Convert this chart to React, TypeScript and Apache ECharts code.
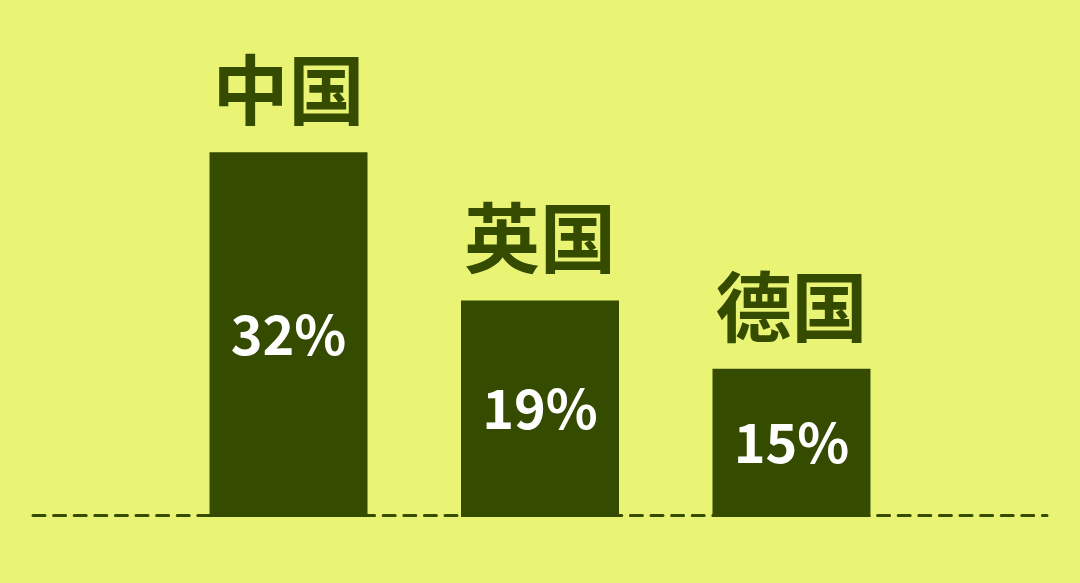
import React, { useEffect, useRef } from 'react';
import * as echarts from 'echarts';

const countries = ['中国', '英国', '德国'];
// bar heights as drawn in the picture, and the printed shares
const barHeights = [32, 19, 13];
const shareLabels = ['32%', '19%', '15%'];

const BG = '#e9f374';
const DARK = '#354b00';

export default function App() {
  const chartRef = useRef<HTMLDivElement>(null);

  useEffect(() => {
    document.body.style.margin = '0';
    if (!chartRef.current) return;
    const chart = echarts.init(chartRef.current, undefined, { renderer: 'svg' });

    const font = '"Noto Sans CJK SC", "Noto Sans", sans-serif';

    chart.setOption({
      animation: false,
      backgroundColor: BG,
      grid: { left: 33, right: 33, top: 61, bottom: 66 },
      xAxis: {
        type: 'value',
        min: -0.016,
        max: 4.016,
        offset: -1.5, // dashed baseline sits just under the bars' bottom edge
        axisLine: {
          show: true,
          onZero: false,
          lineStyle: { color: DARK, width: 3, type: [12, 8.6] }
        },
        axisTick: { show: false },
        axisLabel: { show: false },
        splitLine: { show: false }
      },
      yAxis: {
        type: 'value',
        min: 0,
        max: 40,
        show: false,
        splitLine: { show: false }
      },
      series: [
        {
          type: 'bar',
          barWidth: 158,
          z: 5,
          itemStyle: { color: DARK },
          data: barHeights.map((v, i) => [i + 1, v]),
          label: {
            show: true,
            position: 'inside',
            offset: [0, -3],
            color: '#ffffff',
            fontFamily: font,
            fontWeight: 'bold',
            fontSize: 54,
            formatter: (p: any) => shareLabels[p.dataIndex]
          }
        },
        {
          type: 'scatter',
          symbolSize: 0,
          silent: true,
          z: 6,
          itemStyle: { opacity: 1, color: DARK },
          data: barHeights.map((v, i) => [i + 1, v]),
          label: {
            show: true,
            position: 'top',
            distance: 28,
            color: DARK,
            opacity: 1,
            fontFamily: font,
            fontWeight: 'bold',
            fontSize: 76,
            formatter: (p: any) => countries[p.dataIndex]
          }
        }
      ]
    });

    const handleResize = () => chart.resize();
    window.addEventListener('resize', handleResize);
    return () => {
      window.removeEventListener('resize', handleResize);
      chart.dispose();
    };
  }, []);

  return <div ref={chartRef} style={{ width: '1080px', height: '583px' }} />;
}
